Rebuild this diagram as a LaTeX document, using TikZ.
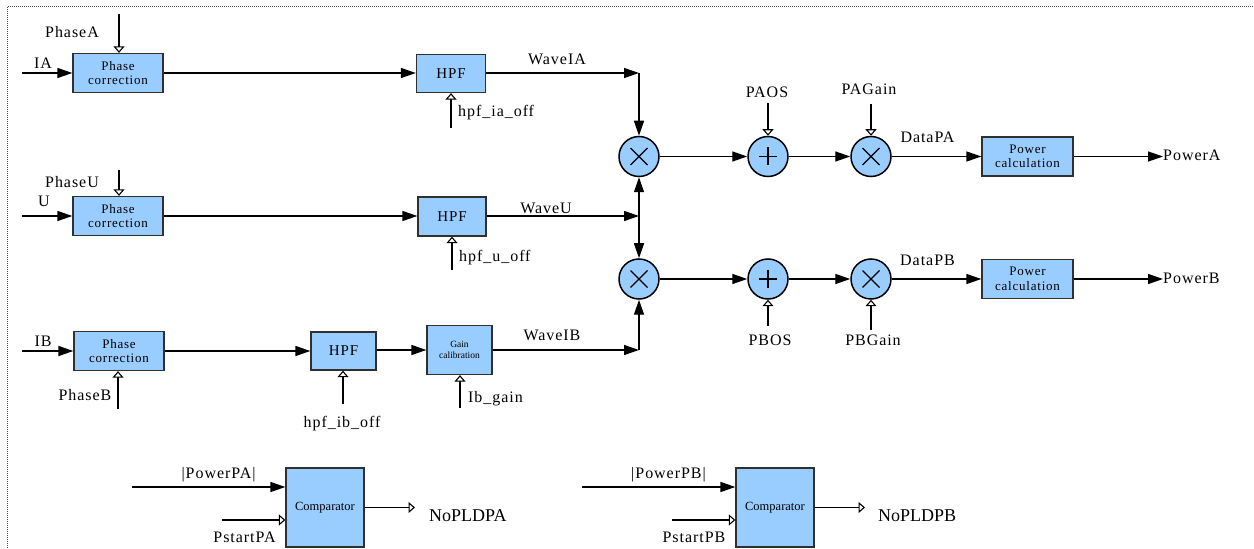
\documentclass[tikz,border=0pt]{standalone}
\usepackage{fontspec}
\setmainfont{Liberation Serif}
\newfontfamily\trk[LetterSpace=6]{Liberation Serif}
\newfontfamily\trkb[LetterSpace=6]{Liberation Serif}
\usetikzlibrary{arrows.meta}
\definecolor{boxblue}{HTML}{99CCFF}
\definecolor{edgegray}{HTML}{303030}
\begin{document}
\begin{tikzpicture}[x=1bp,y=-1bp,
  blk/.style={draw=edgegray, fill=boxblue, line width=1.3bp, inner sep=0pt, align=center, font=\fontsize{13bp}{14.5bp}\trkb},
  op/.style={circle, draw=black, fill=boxblue, line width=1.5bp, minimum size=40bp, inner sep=0pt},
  ln/.style={line width=1.4bp, draw=black},
  fa/.style={ln, -{Triangle[length=15bp,width=10bp]}},
  oa/.style={ln, -{Triangle[open,length=6.5bp,width=11bp,fill=white,line width=1.1bp]}},
  lbl/.style={font=\fontsize{16bp}{18bp}\trk, inner sep=0pt},
  big/.style={font=\fontsize{18bp}{20bp}\selectfont, inner sep=0pt},
]
\useasboundingbox (0,0) rectangle (1254,549);
% border
\draw[line width=1bp, black!70, dash pattern=on 1bp off 1bp] (7,560) -- (7,7) -- (1260,7);

% blocks
\node[blk, minimum width=90bp, minimum height=39bp] (pcA) at (118,73) {Phase\\correction};
\node[blk, minimum width=90bp, minimum height=39bp] (pcU) at (118,216) {Phase\\correction};
\node[blk, minimum width=90bp, minimum height=39bp] (pcB) at (119,351) {Phase\\correction};
\node[blk, minimum width=69bp, minimum height=38bp, font=\fontsize{15bp}{17bp}\trk] (hpfA) at (451,73.5) {HPF};
\node[blk, minimum width=68bp, minimum height=39bp, font=\fontsize{15bp}{17bp}\trk] (hpfU) at (452,216.5) {HPF};
\node[blk, minimum width=65bp, minimum height=38bp, font=\fontsize{15bp}{17bp}\trk] (hpfB) at (343.5,351) {HPF};
\node[blk, minimum width=65bp, minimum height=49bp, font=\fontsize{9.5bp}{11bp}\selectfont] (gain) at (459.5,350) {Gain\\calibration};
\node[blk, minimum width=91bp, minimum height=39bp] (pwA) at (1027.5,156.5) {Power\\calculation};
\node[blk, minimum width=91bp, minimum height=39bp] (pwB) at (1027.5,279) {Power\\calculation};
\node[blk, minimum width=78bp, minimum height=79bp, font=\fontsize{12.5bp}{14bp}\selectfont] (cA) at (325,507.5) {Comparator};
\node[blk, minimum width=78bp, minimum height=79bp, font=\fontsize{12.5bp}{14bp}\selectfont] (cB) at (775,507.5) {Comparator};

% operators
\node[op] (m1) at (639,156.5) {};
\node[op] (p1) at (768,156.5) {};
\node[op] (g1) at (871,156.5) {};
\node[op] (m2) at (639,279) {};
\node[op] (p2) at (768,279) {};
\node[op] (g2) at (871,279) {};
\foreach \n in {m1,g1,m2,g2}
  \draw[line width=1.2bp] ([shift={(-8.5,-8.5)}]\n.center) -- ([shift={(8.5,8.5)}]\n.center)
                          ([shift={(-8.5,8.5)}]\n.center) -- ([shift={(8.5,-8.5)}]\n.center);
\foreach \n in {p1,p2}
  \draw[line width=1.2bp] ([shift={(-9,0)}]\n.center) -- ([shift={(9,0)}]\n.center)
                          ([shift={(0,-9)}]\n.center) -- ([shift={(0,9)}]\n.center);

% free ends
\coordinate (iA) at (22,73);
\coordinate (iU) at (22,216);
\coordinate (iB) at (22,351);
\coordinate (phA) at (119,14);
\coordinate (phU) at (119,170);
\coordinate (phB) at (118,409);
\coordinate (offA) at (451,128);
\coordinate (offU) at (452,270);
\coordinate (offB) at (343,404);
\coordinate (ibg) at (460,408);
\coordinate (jA) at (639,73);
\coordinate (jU) at (639,216);
\coordinate (jB) at (639,350);
\coordinate (paos) at (768,103);
\coordinate (pag) at (871,104);
\coordinate (pbos) at (768,326);
\coordinate (pbg) at (871,330);
\coordinate (oA) at (1163,156.5);
\coordinate (oB) at (1163,279);
\coordinate (ppa) at (132,487);
\coordinate (psa) at (222,520);
\coordinate (noA) at (415,507.5);
\coordinate (ppb) at (582,487);
\coordinate (psb) at (672,520);
\coordinate (noB) at (865,507.5);

% row A
\draw[fa] (iA) -- (pcA.west);
\draw[oa] (phA) -- (phA |- pcA.north);
\draw[fa] (pcA.east) -- (pcA.east -| hpfA.west);
\draw[oa] (offA) -- (offA |- hpfA.south);
\draw[fa] (hpfA.east |- jA) -- (jA);
\draw[fa] (jA) -- (m1.north);
% row U
\draw[fa] (iU) -- (pcU.west);
\draw[oa] (phU) -- (phU |- pcU.north);
\draw[fa] (pcU.east) -- (pcU.east -| hpfU.west);
\draw[oa] (offU) -- (offU |- hpfU.south);
\draw[fa] (hpfU.east |- jU) -- (jU);
\draw[fa] (jU) -- (m1.south);
\draw[fa] (jU) -- (m2.north);
% row B
\draw[fa] (iB) -- (pcB.west);
\draw[oa] (phB) -- (phB |- pcB.south);
\draw[fa] (pcB.east) -- (pcB.east -| hpfB.west);
\draw[oa] (offB) -- (offB |- hpfB.south);
\draw[fa] (hpfB.east |- gain.west) -- (gain.west);
\draw[oa] (ibg) -- (ibg |- gain.south);
\draw[fa] (gain.east |- jB) -- (jB);
\draw[fa] (jB) -- (m2.south);
% right part
\draw[fa] (m1) -- (p1);
\draw[fa] (p1) -- (g1);
\draw[fa] (g1) -- (pwA);
\draw[fa] (pwA) -- (oA);
\draw[oa] (paos) -- (p1.north);
\draw[oa] (pag) -- (g1.north);
\draw[fa] (m2) -- (p2);
\draw[fa] (p2) -- (g2);
\draw[fa] (g2) -- (pwB);
\draw[fa] (pwB) -- (oB);
\draw[oa] (pbos) -- (p2.south);
\draw[oa] (pbg) -- (g2.south);
% comparators
\draw[fa] (ppa) -- (ppa -| cA.west);
\draw[oa] (psa) -- (psa -| cA.west);
\draw[oa] (cA.east) -- (noA);
\draw[fa] (ppb) -- (ppb -| cB.west);
\draw[oa] (psb) -- (psb -| cB.west);
\draw[oa] (cB.east) -- (noB);

% labels
\node[lbl, anchor=base] (tPhA) at (72,38) {PhaseA};
\node[lbl, anchor=base] (tIA) at (43,69) {IA};
\node[lbl, anchor=base] (tPhU) at (72,188) {PhaseU};
\node[lbl, anchor=base] (tU) at (44,207) {U};
\node[lbl, anchor=base] (tIB) at (43,347) {IB};
\node[lbl, anchor=base] (tPhB) at (85,400) {PhaseB};
\node[lbl, anchor=base west] (tOffA) at (458,117) {hpf\_ia\_off};
\node[lbl, anchor=base west] (tOffU) at (459,262) {hpf\_u\_off};
\node[lbl, anchor=base] (tOffB) at (342,427) {hpf\_ib\_off};
\node[lbl, anchor=base west] (tIbg) at (468,402) {Ib\_gain};
\node[lbl, anchor=base] (tWA) at (557,65) {WaveIA};
\node[lbl, anchor=base] (tWU) at (546,214) {WaveU};
\node[lbl, anchor=base] (tWB) at (552,341) {WaveIB};
\node[lbl, anchor=base] (tPAOS) at (767,98) {PAOS};
\node[lbl, anchor=base] (tPAG) at (869,95) {PAGain};
\node[lbl, anchor=base] (tDPA) at (927.5,143) {DataPA};
\node[lbl, anchor=base] (tDPB) at (927.5,266) {DataPB};
\node[lbl, anchor=base] (tPBOS) at (770,346) {PBOS};
\node[lbl, anchor=base] (tPBG) at (873,346) {PBGain};
\node[lbl, anchor=base west] (tPwA) at (1163,161) {PowerA};
\node[lbl, anchor=base west] (tPwB) at (1163,284) {PowerB};
\node[lbl, anchor=base] (tPPA) at (218.5,478) {|PowerPA|};
\node[lbl, anchor=base] (tPSA) at (244.5,542) {PstartPA};
\node[big, anchor=base west] (tNoA) at (429,521) {NoPLDPA};
\node[lbl, anchor=base] (tPPB) at (668.5,478) {|PowerPB|};
\node[lbl, anchor=base] (tPSB) at (694,542) {PstartPB};
\node[big, anchor=base west] (tNoB) at (878,521) {NoPLDPB};
\end{tikzpicture}
\end{document}
